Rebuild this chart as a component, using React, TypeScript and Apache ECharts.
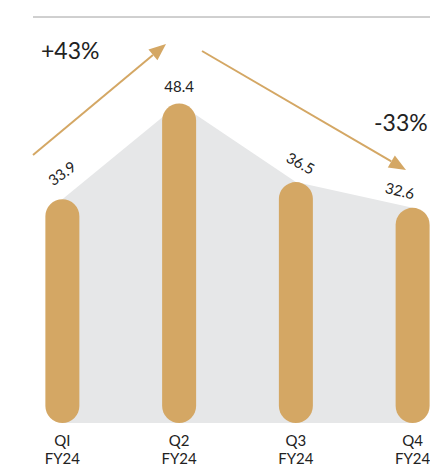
import React, { useEffect, useRef } from "react";
import * as echarts from "echarts";

const categories = ["QI\nFY24", "Q2\nFY24", "Q3\nFY24", "Q4\nFY24"];
const values = [33.9, 48.4, 36.5, 32.6];
const labelRotations = [36, 0, -28, -13];
const labelOffsets: [number, number][] = [[9, -6], [0, 0], [0, -3], [-14, 3]];
const changeTexts = ["+43%", "-33%"];

const GOLD = "#D4A764";
const FONT = "Lato, 'Open Sans', sans-serif";

export default function App() {
  const ref = useRef<HTMLDivElement>(null);
  useEffect(() => {
    document.body.style.margin = "0";
    const chart = echarts.init(ref.current!, null, { renderer: "svg" });
    const arrow = (x1: number, y1: number, x2: number, y2: number) => {
      const ang = Math.atan2(y2 - y1, x2 - x1);
      const L = 17, W = 7;
      const bx = x2 - L * Math.cos(ang), by = y2 - L * Math.sin(ang);
      const px = -Math.sin(ang) * W, py = Math.cos(ang) * W;
      return [
        { type: "line", shape: { x1, y1, x2: bx, y2: by }, style: { stroke: GOLD, lineWidth: 2 } },
        { type: "polygon", shape: { points: [[x2, y2], [bx + px, by + py], [bx - px, by - py]] }, style: { fill: GOLD } },
      ];
    };
    chart.setOption({
      animation: false,
      grid: { left: 4, width: 467, top: 27, bottom: 44, outerBoundsMode: "none", containLabel: false },
      xAxis: {
        type: "category",
        data: categories,
        boundaryGap: true,
        axisLine: { show: false },
        axisTick: { show: false },
        axisLabel: { color: "#222", fontSize: 15, fontFamily: FONT, lineHeight: 18, margin: 8 },
      },
      yAxis: { type: "value", min: 0, max: 60, show: false, splitLine: { show: false } },
      series: [
        {
          type: "line",
          data: values,
          symbol: "none",
          lineStyle: { width: 0, color: "#E6E7E8" },
          areaStyle: { color: "#E6E7E8", opacity: 1 },
          z: 1,
          silent: true,
        },
        {
          type: "bar",
          data: values.map((v, i) => ({
            value: v,
            label: { rotate: labelRotations[i], offset: labelOffsets[i] },
          })),
          barWidth: 34,
          itemStyle: { color: GOLD, borderRadius: 17 },
          label: {
            show: true,
            position: "top",
            distance: 10,
            color: "#222",
            fontSize: 15,
            fontFamily: FONT,
          },
          z: 2,
        },
      ],
      graphic: [
        { type: "line", shape: { x1: 33, y1: 17, x2: 430, y2: 17 }, style: { stroke: "#A0A0A0", lineWidth: 1 } },
        ...arrow(33, 155, 166, 44),
        ...arrow(202, 51, 406, 170),
        { type: "text", x: 41, y: 50, style: { text: changeTexts[0], fill: "#222", fontSize: 23, fontFamily: FONT, verticalAlign: "middle" } },
        { type: "text", x: 374, y: 122, style: { text: changeTexts[1], fill: "#222", fontSize: 23, fontFamily: FONT, verticalAlign: "middle" } },
      ],
    });
    return () => chart.dispose();
  }, []);
  return (
    <div style={{ width: 430, height: 467, overflow: "hidden", position: "relative" }}>
      <div ref={ref} style={{ width: 480, height: 467 }} />
    </div>
  );
}
